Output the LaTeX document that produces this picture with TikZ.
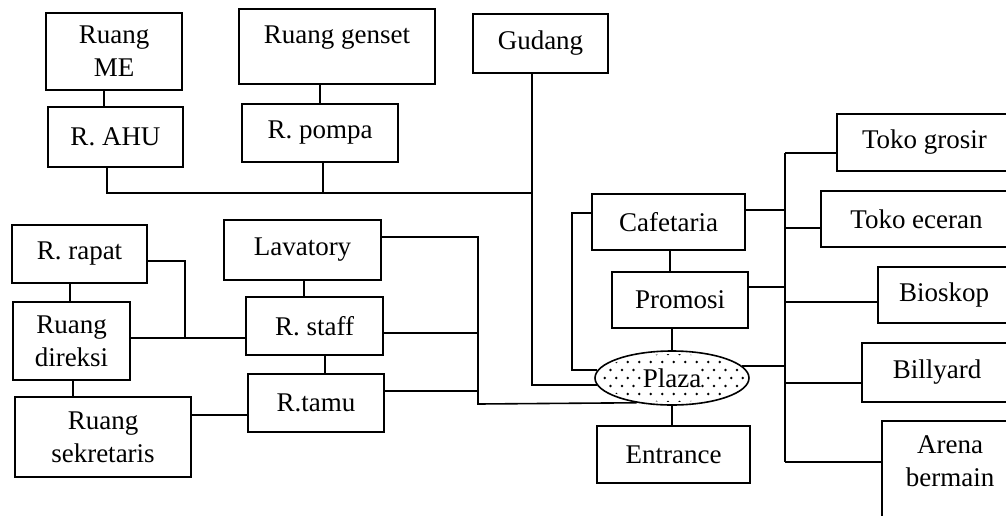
\documentclass[tikz,border=0pt]{standalone}
\usepackage{fontspec}
\setmainfont{Liberation Serif}
\usetikzlibrary{shapes.geometric}
\begin{document}
\begin{tikzpicture}[x=1pt,y=-1pt,
  box/.style={draw, line width=1.6pt, rectangle, align=center, inner sep=0pt,
    font=\fontsize{27}{33}\selectfont},
  conn/.style={line width=1.6pt},
  dotmark/.style={fill=black}]
\clip (0,0) rectangle (1006,515);
\fill[white] (0,0) rectangle (1006,515);
% ---------- top group ----------
\node[box, minimum width=136, minimum height=77] (me) at (114,51.5) {Ruang\\ME};
\node[box, minimum width=135, minimum height=60] (ahu) at (115.5,137) {R. AHU};
\node[box, minimum width=196, minimum height=75] (genset) at (337,46.5) {Ruang genset\\[-10pt]\mbox{}};
\node[box, minimum width=156, minimum height=58] (pompa) at (320,133) {R. pompa};
\node[box, minimum width=135, minimum height=59] (gudang) at (540.5,43.5) {Gudang};
% ---------- left group ----------
\node[box, minimum width=135, minimum height=58] (rapat) at (79.5,254) {R. rapat};
\node[box, minimum width=117, minimum height=78] (direksi) at (71.5,341) {Ruang\\direksi};
\node[box, minimum width=176, minimum height=80] (sekretaris) at (103,437) {Ruang\\sekretaris};
\node[box, minimum width=157, minimum height=60] (lavatory) at (302.5,250) {Lavatory};
\node[box, minimum width=137, minimum height=58] (staff) at (314.5,326) {R. staff};
\node[box, minimum width=136, minimum height=58] (tamu) at (316,403) {R.tamu};
% ---------- centre group ----------
\node[box, minimum width=153, minimum height=56] (cafe) at (668.5,222) {Cafetaria};
\node[box, minimum width=136, minimum height=56] (promosi) at (680,300) {Promosi};
\begin{scope}
  \clip (672,378) ellipse [x radius=74, y radius=24];
  \foreach \r in {0,...,6}{
    \foreach \c in {0,...,13}{
      \pgfmathsetmacro\dotx{599+11.5*\c+mod(\r,2)*5.75}
      \pgfmathsetmacro\doty{354+8*\r}
      \pgfmathtruncatemacro\dothide{and(abs(\dotx-672)<29, abs(\doty-378)<11)}
      \ifnum\dothide=0 \fill[dotmark] (\dotx,\doty) circle (1.4pt); \fi
    }
  }
\end{scope}
\node[draw, ellipse, line width=1.6pt, minimum width=154, minimum height=54, inner sep=0pt,
  font=\fontsize{27}{33}\selectfont] (plaza) at (672,378) {Plaza};
\node[box, minimum width=153, minimum height=57] (entrance) at (673.5,454.5) {Entrance};
% ---------- right group ----------
\node[box, minimum width=175, minimum height=57] (grosir) at (924.5,142.5) {Toko grosir};
\node[box, minimum width=191, minimum height=56] (eceran) at (916.5,219) {Toko eceran};
\node[box, minimum width=132, minimum height=56] (bioskop) at (944,295) {Bioskop};
\node[box, minimum width=150, minimum height=59] (billyard) at (937,372.5) {Billyard};
\node[box, minimum width=136, minimum height=114] (arena) at (950,478) {Arena\\bermain\\\mbox{}};
% ---------- helper coordinates ----------
\coordinate (vME) at (104,0);
\coordinate (tbL) at (107,193);
\coordinate (tbP) at (323,193);
\coordinate (tbR) at (532,193);
\coordinate (vRapat) at (70,0);
\coordinate (vDir) at (73,0);
\coordinate (hRapat) at (0,261);
\coordinate (jr) at (185,338);
\coordinate (js) at (200,415);
\coordinate (vLav) at (304,0);
\coordinate (vStaff) at (325,0);
\coordinate (lbT) at (478,237);
\coordinate (lbB) at (478,404);
\coordinate (hSt) at (478,333);
\coordinate (hTa) at (478,391);
\coordinate (vCafe) at (670,0);
\coordinate (rbT) at (785,153);
\coordinate (rbB) at (785,462);
\coordinate (hCa) at (785,210);
\coordinate (hPr) at (785,287);
\coordinate (hEc) at (785,228);
\coordinate (hBi) at (785,302);
\coordinate (hBl) at (785,383);
% ---------- connectors: top ----------
\draw[conn] (me.south -| vME) -- (ahu.north -| vME);
\draw[conn] (genset.south -| pompa.north) -- (pompa.north);
\draw[conn] (ahu.south -| tbL) -- (tbL) -- (tbR);
\draw[conn] (pompa.south -| tbP) -- (tbP);
\draw[conn] (gudang.south -| tbR) |- ([xshift=2.5,yshift=-7]plaza.west);
% ---------- connectors: left ----------
\draw[conn] (rapat.south -| vRapat) -- (direksi.north -| vRapat);
\draw[conn] (direksi.south -| vDir) -- (sekretaris.north -| vDir);
\draw[conn] (rapat.east |- hRapat) -| (jr);
\draw[conn] (direksi.east |- jr) -- (staff.west |- jr);
\draw[conn] (sekretaris.east |- js) -- (tamu.west |- js);
\draw[conn] (lavatory.south -| vLav) -- (staff.north -| vLav);
\draw[conn] (staff.south -| vStaff) -- (tamu.north -| vStaff);
\draw[conn] (lavatory.east |- lbT) -- (lbT) -- (lbB) -- (plaza.215);
\draw[conn] (staff.east |- hSt) -- (hSt);
\draw[conn] (tamu.east |- hTa) -- (hTa);
% ---------- connectors: centre ----------
\draw[conn] ([yshift=9]cafe.west) -- ++(-19,0) |- ([xshift=3,yshift=8]plaza.west);
\draw[conn] (cafe.south -| vCafe) -- (promosi.north -| vCafe);
\draw[conn] (promosi.south -| plaza.north) -- (plaza.north);
\draw[conn] (plaza.south) -- (entrance.north -| plaza.south);
% ---------- connectors: right ----------
\draw[conn] (rbT) -- (rbB);
\draw[conn] (cafe.east |- hCa) -- (hCa);
\draw[conn] (promosi.east |- hPr) -- (hPr);
\draw[conn] (plaza.10) -- (plaza.10 -| rbT);
\draw[conn] (rbT) -- (grosir.west |- rbT);
\draw[conn] (hEc) -- (eceran.west |- hEc);
\draw[conn] (hBi) -- (bioskop.west |- hBi);
\draw[conn] (hBl) -- (billyard.west |- hBl);
\draw[conn] (rbB) -- (arena.west |- rbB);
\end{tikzpicture}
\end{document}
